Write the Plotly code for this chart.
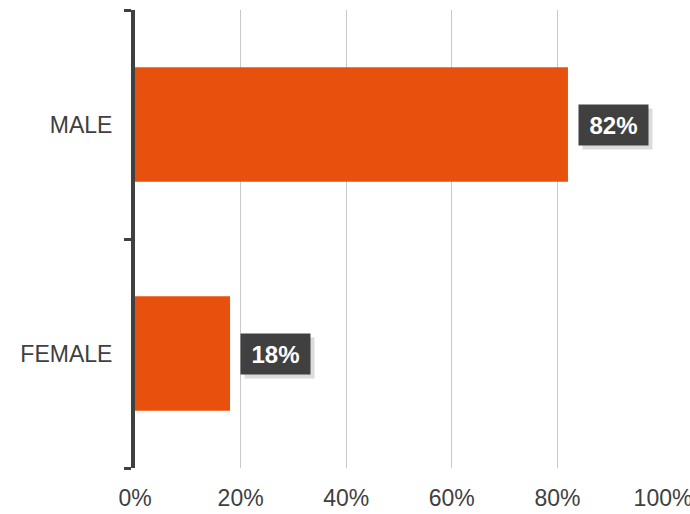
import plotly.graph_objects as go

categories = ["FEMALE", "MALE"]
values = [18, 82]
labels = ["18%", "82%"]
x_ticks = [0, 20, 40, 60, 80, 100]
x_ticklabels = ["0%", "20%", "40%", "60%", "80%", "100%"]

fig = go.Figure()
fig.add_trace(go.Bar(
    x=values, y=categories, orientation="h",
    marker=dict(color="#E8500E", line=dict(width=0)),
    hoverinfo="skip",
))

annotations = []
for cat, v, lab in zip(categories, values, labels):
    # soft shadow box (no text)
    annotations.append(dict(
        x=v, y=cat, xref="x", yref="y", text="&nbsp;", showarrow=False,
        xanchor="left", yanchor="middle", xshift=14, yshift=-4,
        width=69, height=40, borderpad=0,
        font=dict(family="Liberation Sans, Arial", size=10, color="rgba(0,0,0,0)"),
        bgcolor="rgba(0,0,0,0.14)",
    ))
    annotations.append(dict(
        x=v, y=cat, xref="x", yref="y", text="<b>" + lab + "</b>", showarrow=False,
        xanchor="left", yanchor="middle", xshift=10, yshift=0,
        width=69, height=40, borderpad=0, align="center", valign="middle",
        font=dict(family="Liberation Sans, Arial", size=24, color="white"),
        bgcolor="#404040",
    ))

fig.update_layout(
    width=690, height=514,
    margin=dict(l=135, r=27, t=10, b=46, autoexpand=False),
    paper_bgcolor="white", plot_bgcolor="white",
    showlegend=False,
    bargap=0.5,
    annotations=annotations,
    font=dict(family="Liberation Sans, Arial", size=23, color="#404040"),
    xaxis=dict(
        range=[0, 100], tickvals=x_ticks, ticktext=x_ticklabels,
        showgrid=True, gridcolor="#C8C8C8", gridwidth=1,
        zeroline=False, showline=False, ticks="", ticklabelstandoff=14,
        ticklabeloverflow="allow",
        tickfont=dict(size=23, color="#404040"), fixedrange=True, automargin=False,
    ),
    yaxis=dict(
        categoryorder="array", categoryarray=categories,
        showline=True, linecolor="#404040", linewidth=4,
        ticks="outside", tickson="boundaries", ticklen=7, tickwidth=3, tickcolor="#404040",
        showgrid=False, ticklabelstandoff=14,
        tickfont=dict(size=23, color="#404040"), fixedrange=True, automargin=False,
    ),
)

fig.write_html("out.html")
